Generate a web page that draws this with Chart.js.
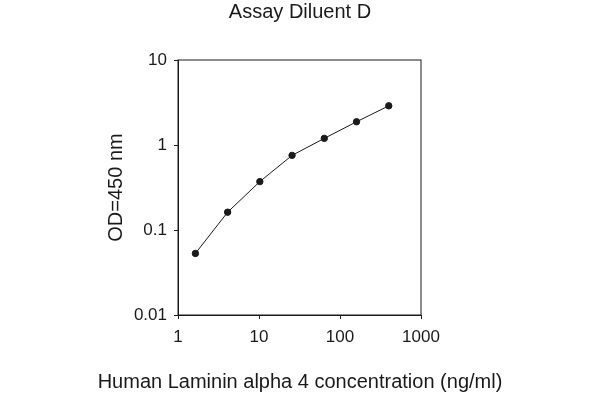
<!DOCTYPE html>
<html>
<head>
<meta charset="utf-8">
<script src="https://cdn.jsdelivr.net/npm/chart.js@4.4.0/dist/chart.umd.min.js"></script>
<style>
  html, body { margin: 0; padding: 0; background: #fff; }
  #wrap { width: 600px; height: 400px; }
</style>
</head>
<body>
<div id="wrap"><canvas id="chart"></canvas></div>
<script>
// concentration (ng/ml) and OD
const concentrations = [1.64, 4.1, 10.24, 25.6, 64, 160, 400];
const odValues = [0.053, 0.162, 0.371, 0.755, 1.197, 1.876, 2.89];
const xTickValues = [1, 10, 100, 1000];
const yTickValues = [0.01, 0.1, 1, 10];

const chartTitle = 'Assay Diluent D';
const xTitle = 'Human Laminin alpha 4 concentration (ng/ml)';
const yTitle = 'OD=450 nm';

const fontFamily = '"Liberation Sans", Arial, sans-serif';
const ink = '#1a1a1a';

// box around the plot area (top and right sides too)
const frame = {
  id: 'frame',
  afterDraw(chart) {
    const { ctx, chartArea } = chart;
    ctx.save();
    ctx.strokeStyle = ink;
    ctx.lineWidth = 1;
    ctx.strokeRect(chartArea.left, chartArea.top, chartArea.right - chartArea.left, chartArea.bottom - chartArea.top);
    ctx.restore();
  }
};

const whiteBg = {
  id: 'whiteBg',
  beforeDraw(chart) {
    const { ctx, width, height } = chart;
    ctx.save();
    ctx.fillStyle = '#fff';
    ctx.fillRect(0, 0, width, height);
    ctx.restore();
  }
};

new Chart(document.getElementById('chart'), {
  type: 'scatter',
  data: {
    datasets: [{
      data: concentrations.map((c, i) => ({ x: c, y: odValues[i] })),
      showLine: true,
      borderColor: ink,
      borderWidth: 1,
      backgroundColor: ink,
      pointRadius: 3.2,
      pointHoverRadius: 3.2,
      yAxisID: 'y'
    }]
  },
  options: {
    responsive: true,
    maintainAspectRatio: false,
    animation: false,
    layout: { padding: 0 },
    plugins: {
      legend: { display: false },
      tooltip: { enabled: false },
      title: {
        display: true,
        text: chartTitle,
        color: ink,
        font: { family: fontFamily, size: 20, weight: 'normal' },
        padding: { top: 0, bottom: 36 }
      },
      // x axis title sits below the axis, full width so it isn't squeezed
      subtitle: {
        display: true,
        position: 'bottom',
        text: xTitle,
        color: ink,
        font: { family: fontFamily, size: 20, weight: 'normal' },
        padding: { top: 5, bottom: 6 }
      }
    },
    scales: {
      x: {
        type: 'logarithmic',
        min: 1,
        max: 1000,
        afterBuildTicks: s => { s.ticks = xTickValues.map(v => ({ value: v })); },
        afterFit: s => { s.height = 50; },
        ticks: {
          color: ink,
          font: { family: fontFamily, size: 17 },
          padding: 8,
          maxRotation: 0,
          callback: v => String(v)
        },
        grid: { drawOnChartArea: false, tickLength: 4, color: ink },
        border: { color: ink, width: 1 }
      },
      y: {
        type: 'logarithmic',
        min: 0.01,
        max: 10,
        afterBuildTicks: s => { s.ticks = yTickValues.map(v => ({ value: v })); },
        afterFit: s => { s.width = 178; },
        ticks: {
          color: ink,
          font: { family: fontFamily, size: 17 },
          padding: 7,
          callback: v => String(v)
        },
        grid: { drawOnChartArea: false, tickLength: 4, color: ink },
        border: { color: ink, width: 1 },
        title: {
          display: true,
          text: yTitle,
          color: ink,
          font: { family: fontFamily, size: 20 },
          padding: { top: 104.5, bottom: 0 }
        }
      },
      // empty right-hand spacer keeps the plot box where the reference has it
      spacer: {
        type: 'linear',
        position: 'right',
        display: true,
        ticks: { display: false },
        grid: { display: false },
        border: { display: false },
        afterFit: s => { s.width = 179; }
      }
    }
  },
  plugins: [whiteBg, frame]
});
</script>
</body>
</html>
